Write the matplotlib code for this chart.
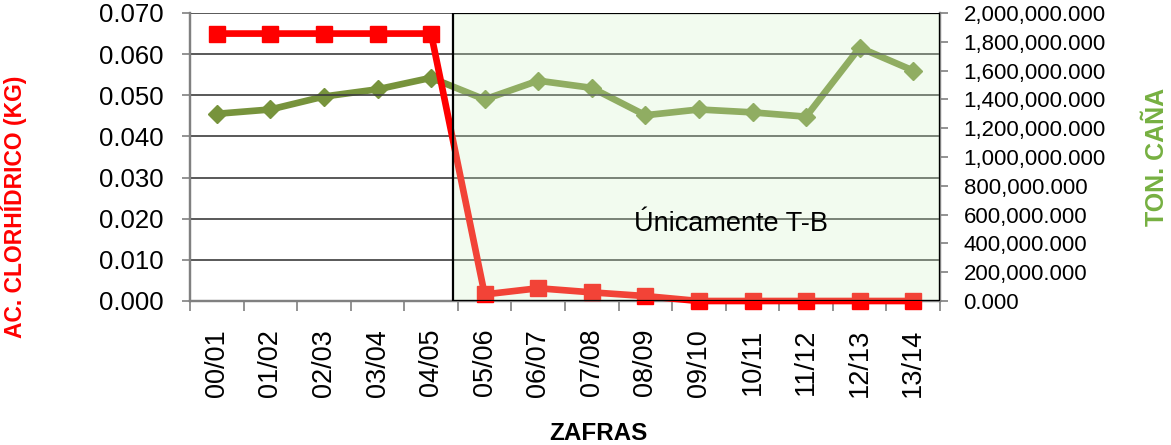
import numpy as np
import matplotlib.pyplot as plt
from matplotlib.patches import Rectangle
from matplotlib.ticker import FuncFormatter

plt.rcParams['font.family'] = ['Liberation Sans', 'DejaVu Sans']

# zafras (harvest seasons)
zafras = ['00/01', '01/02', '02/03', '03/04', '04/05', '05/06', '06/07',
          '07/08', '08/09', '09/10', '10/11', '11/12', '12/13', '13/14']

# acido clorhidrico (kg) - left axis
acido = [0.065, 0.065, 0.065, 0.065, 0.065, 0.0016, 0.0031,
         0.0021, 0.0012, 0.0, 0.0, 0.0, 0.0, 0.0]

# toneladas de caña - right axis
cana = [1.30e6, 1.33e6, 1.42e6, 1.47e6, 1.55e6, 1.40e6, 1.53e6,
        1.48e6, 1.29e6, 1.33e6, 1.31e6, 1.28e6, 1.76e6, 1.60e6]

x = np.arange(len(zafras))

fig = plt.figure(figsize=(11.71, 4.45), dpi=100)
ax = fig.add_axes([190/1171, 1 - 301/445, 750/1171, 288/445])
ax2 = ax.twinx()
ax.set_zorder(ax2.get_zorder() + 1)
ax.patch.set_visible(False)

# green series on secondary axis
ax2.plot(x, cana, color='#77933C', lw=4.8, marker='D', ms=9, zorder=3)
ax2.set_ylim(0, 2e6)
ax2.set_yticks(np.arange(0, 2.01e6, 2e5))
ax2.yaxis.set_major_formatter(FuncFormatter(lambda v, p: '{:,.3f}'.format(v)))

# red series on primary axis
ax.plot(x, acido, color='#FF0000', lw=4.8, marker='s', ms=11, zorder=3, clip_on=False)
ax.set_ylim(0, 0.07)
ax.set_xlim(-0.5, len(zafras) - 0.5)
ax.set_yticks(np.arange(0, 0.0701, 0.01))
ax.yaxis.set_major_formatter(FuncFormatter(lambda v, p: '{:.3f}'.format(v)))
ax.grid(axis='y', color='#3c3c3c', lw=1.2)
ax.set_axisbelow(True)

# shaded region
box = Rectangle((4.41, 0), len(zafras) - 0.5 - 4.41, 0.07,
                facecolor=(0.82, 0.945, 0.776, 0.28), edgecolor='black',
                lw=1.6, zorder=5)
ax.add_patch(box)
ax.text(9.6, 0.0186, 'Únicamente T-B', fontsize=19.5, ha='center', va='center', zorder=6)

# x ticks: boundaries as major ticks, labels at centers
ax.set_xticks(np.arange(-0.5, len(zafras), 1))
ax.set_xticklabels([])
ax.set_xticks(x, minor=True)
ax.set_xticklabels(zafras, minor=True, rotation=90, fontsize=19.5)
ax.tick_params(axis='x', which='major', length=7, width=1.2, color='#808080')
ax.tick_params(axis='x', which='minor', length=0, pad=20)
ax.tick_params(axis='y', length=6, width=1.2, color='#808080', labelsize=18.5, pad=13)
ax2.tick_params(axis='y', length=6, width=1.2, color='#808080', labelsize=16, pad=11)

for a in (ax, ax2):
    a.spines['top'].set_visible(False)
    a.spines['left'].set_color('#808080')
    a.spines['left'].set_linewidth(1.6)
    a.spines['bottom'].set_color('#808080')
    a.spines['bottom'].set_linewidth(1.6)
    a.spines['right'].set_color('#808080')
    a.spines['right'].set_linewidth(1.6)

fig.text(14/1171, 1 - 207/445, 'AC. CLORHÍDRICO (KG)', rotation=90, color='#FF0000',
         fontsize=16.5, fontweight='bold', ha='center', va='center')
fig.text(1157/1171, 1 - 157/445, 'TON. CAÑA', rotation=90, color='#76B041',
         fontsize=18, fontweight='bold', ha='center', va='center')
fig.text(598/1171, 1 - 433/445, 'ZAFRAS', color='black',
         fontsize=17.5, fontweight='bold', ha='center', va='center')

fig.savefig('out.png', dpi=100)
